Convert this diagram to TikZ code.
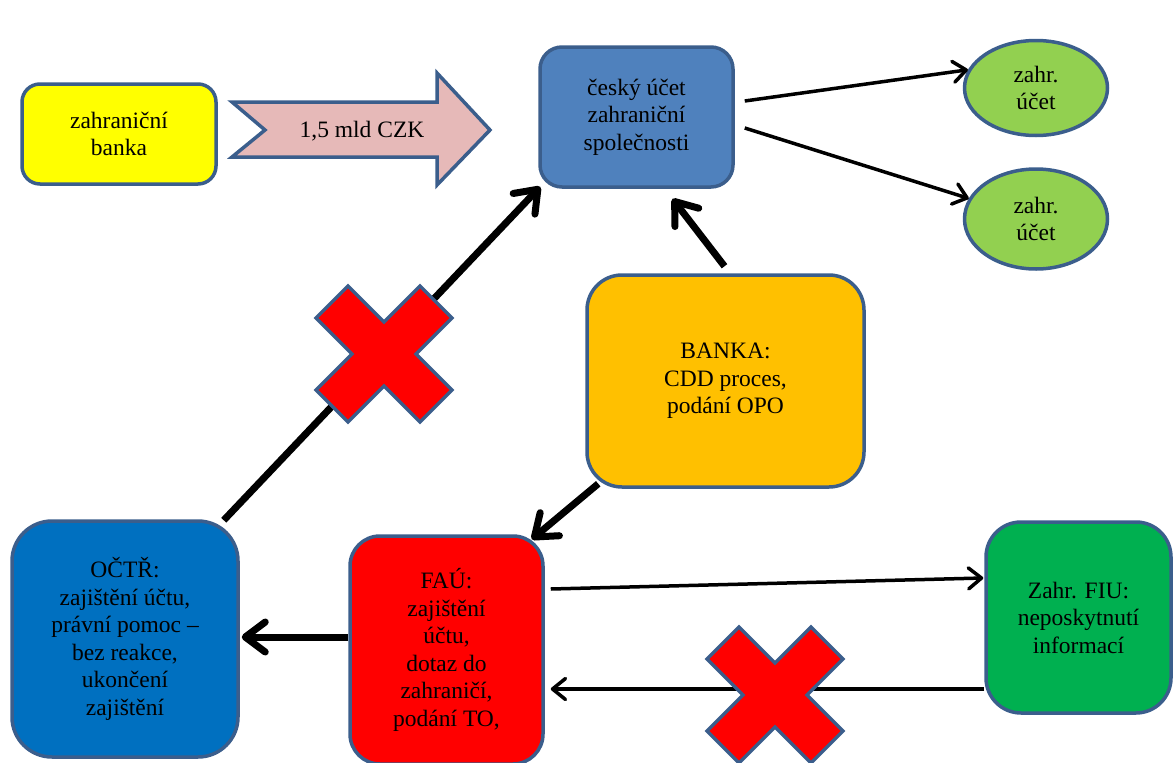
\documentclass[tikz,border=0pt]{standalone}
\usepackage{fontspec}
\setmainfont{Liberation Serif}
\usetikzlibrary{arrows.meta,shapes.geometric,calc}
\definecolor{bord}{HTML}{3B5E8C}
\definecolor{cyellow}{HTML}{FFFF00}
\definecolor{cpink}{HTML}{E6B9B8}
\definecolor{cblue}{HTML}{4F81BD}
\definecolor{cgreen}{HTML}{92D050}
\definecolor{corange}{HTML}{FFC000}
\definecolor{cdblue}{HTML}{0070C0}
\definecolor{cred}{HTML}{FF0000}
\definecolor{cfiu}{HTML}{00B050}
\begin{document}
\begin{tikzpicture}[x=1pt,y=-1pt,
  box/.style={draw=bord, line width=3.5pt, rounded corners=#1, inner sep=0pt, align=center,
    font=\fontsize{23.5}{27.5}\selectfont},
  oval/.style={ellipse, draw=bord, line width=3.5pt, fill=cgreen, inner sep=0pt, align=center,
    minimum width=143pt, font=\fontsize{23.5}{27.5}\selectfont},
  thick/.style={line width=7pt, -{Straight Barb[round,length=20pt,width=30pt]}},
  thin/.style={line width=3.5pt, -{Straight Barb[round,length=13pt,width=21pt]}},
  crossshape/.style={draw=bord, line width=3.5pt, fill=cred, line join=miter},
  label/.style={font=\fontsize{23.5}{27.5}\selectfont, inner sep=0pt}
]
\useasboundingbox (0,0) rectangle (1173,763);

% nodes
\node[box=18pt, fill=cyellow, minimum width=194pt, minimum height=100pt] (zb) at (119,134) {zahraniční\\banka};
\node[box=22pt, fill=cblue, minimum width=193pt, minimum height=140pt] (cesky) at (636.5,117) {český účet\\zahraniční\\společnosti};
\node[oval, minimum height=95pt] (e1) at (1036,88) {zahr.\\účet};
\node[oval, minimum height=100pt] (e2) at (1036,219) {zahr.\\účet};
\node[box=35pt, fill=corange, minimum width=277pt, minimum height=212pt] (banka) at (725.5,381) {BANKA:\\CDD proces,\\podání OPO};
\node[box=40pt, fill=cdblue, minimum width=226pt, minimum height=236pt] (octr) at (125,639) {OČTŘ:\\zajištění účtu,\\právní pomoc –\\bez reakce,\\ukončení\\zajištění};
\node[box=30pt, fill=cred, minimum width=193pt, minimum height=228pt] (fau) at (446.5,650) {FAÚ:\\zajištění\\účtu,\\dotaz do\\zahraničí,\\podání TO,};
\node[box=35pt, fill=cfiu, minimum width=185pt, minimum height=191pt] (fiu) at (1078.5,617.5) {Zahr. FIU:\\neposkytnutí\\informací};

% block arrow with amount
\draw[draw=bord, fill=cpink, line width=3.5pt, line join=miter]
  (232,102) -- (437,102) -- (437,73) -- (490,130) -- (437,185) -- (437,157) -- (232,157) -- (265,130) -- cycle;
\node[label] (amount) at (362,131) {1,5 mld CZK};

% connectors
\draw[thin] ($(cesky.east)+(10,-16)$) -- (e1.165);
\draw[thin] ($(cesky.east)+(10,11)$) -- (e2.163);
\draw[thick] ($(banka.north)+(-1,-7)$) -- ($(cesky.south)+(36,10)$);
\draw[thick] ($(banka.south west)+(13,-5)$) -- ($(fau.north east)+(-13,5)$);
\draw[thick] ($(fau.west)+(0,-13)$) -- ($(octr.east)+(2,-2)$);
\draw[thick] ($(octr.north east)+(-16,1)$) -- ($(cesky.south west)+(2,-2)$);
\draw[thin] ($(fau.east)+(6,-61)$) -- ($(fiu.west)+(-1,-39.5)$);
\draw[thin] ($(fiu.west)+(0,71.5)$) -- ($(fau.east)+(6,39)$);

% crosses
\draw[crossshape, shift={(384,354)}]
  (0,-32) -- (36,-68) -- (68,-36) -- (32,0) -- (68,36) -- (36,68) -- (0,32)
  -- (-36,68) -- (-68,36) -- (-32,0) -- (-68,-36) -- (-36,-68) -- cycle;
\draw[crossshape, shift={(775,695)}]
  (0,-32) -- (36,-68) -- (68,-36) -- (32,0) -- (68,36) -- (36,68) -- (0,32)
  -- (-36,68) -- (-68,36) -- (-32,0) -- (-68,-36) -- (-36,-68) -- cycle;
\end{tikzpicture}
\end{document}
